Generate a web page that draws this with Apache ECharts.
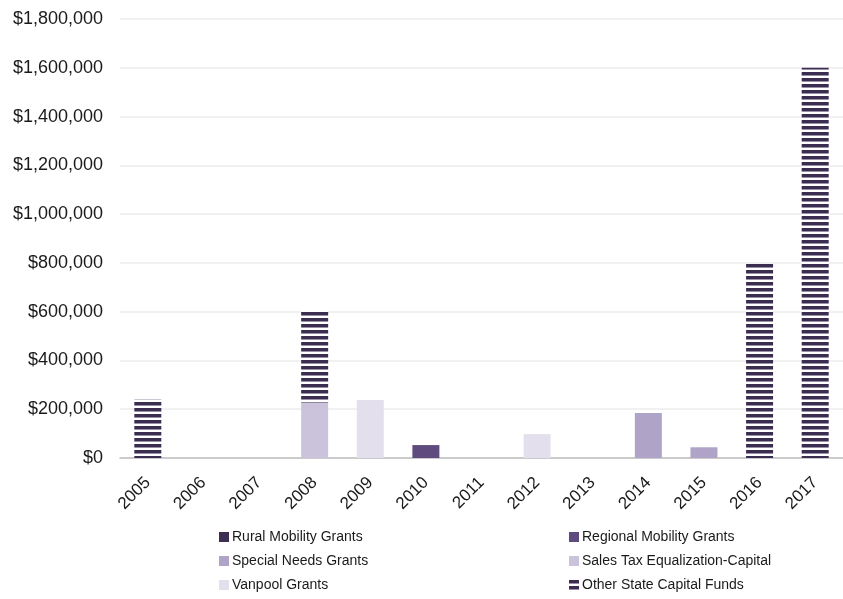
<!DOCTYPE html>
<html>
<head>
<meta charset="utf-8">
<script src="https://cdn.jsdelivr.net/npm/echarts@6/dist/echarts.min.js"></script>
<style>
html,body{margin:0;padding:0;background:#fff;}
#chart{width:843px;height:599px;}
</style>
</head>
<body>
<div id="chart"></div>
<script>
const years = ['2005','2006','2007','2008','2009','2010','2011','2012','2013','2014','2015','2016','2017'];
const ruralMobility   = [null,null,null,null,null,null,null,null,null,null,null,null,null];
const regionalMobility= [null,null,null,null,null,53000,null,null,null,null,null,null,null];
const specialNeeds    = [null,null,null,null,null,null,null,null,null,185000,44000,null,null];
const salesTaxEq      = [null,null,null,228000,null,null,null,null,null,null,null,null,null];
const vanpool         = [null,null,null,null,238000,null,null,98000,null,null,null,null,null];
const otherState      = [240000,null,null,379000,null,null,null,null,null,null,null,795000,1600000];

const seriesNames = ['Rural Mobility Grants','Regional Mobility Grants','Special Needs Grants','Sales Tax Equalization-Capital','Vanpool Grants','Other State Capital Funds'];

// striped pattern
const pc = document.createElement('canvas');
pc.width = 4; pc.height = 6;
const g = pc.getContext('2d');
g.fillStyle = '#ffffff'; g.fillRect(0,0,4,6);
g.fillStyle = '#3b2d50'; g.fillRect(0,0,4,3);
g.fillStyle = '#9a90a8'; g.fillRect(0,3,4,1);
const stripe = {image: pc, repeat: 'repeat'};

const colors = ['#3d2f52', '#5f4b7d', '#b0a3c8', '#cbc2db', '#e4dfec', stripe];
const datas = [ruralMobility, regionalMobility, specialNeeds, salesTaxEq, vanpool, otherState];

const font = 'Liberation Sans, Arial, sans-serif';
const legendCommon = {
  orient: 'vertical', top: 525, height: 80, width: 260,
  itemWidth: 10, itemHeight: 10, itemGap: 10, icon: 'rect',
  textStyle: {fontFamily: font, fontSize: 14, color: '#1a1a1a', padding: [0,0,0,-2]}
};
const chart = echarts.init(document.getElementById('chart'));
chart.setOption({
  animation: false,
  grid: {left: 120, right: -11, top: 19, bottom: 141, containLabel: false},
  legend: [
    Object.assign({data: [seriesNames[0], seriesNames[2], seriesNames[4]], left: 214}, legendCommon),
    Object.assign({data: [seriesNames[1], seriesNames[3], seriesNames[5]], left: 564}, legendCommon)
  ],
  xAxis: {
    type: 'category', data: years,
    axisLine: {lineStyle: {color: '#bfbfbf', width: 1.5}},
    axisTick: {show: false},
    axisLabel: {rotate: 45, fontFamily: font, fontSize: 17, color: '#1a1a1a', margin: 22}
  },
  yAxis: {
    type: 'value', min: 0, max: 1800000, interval: 200000,
    axisLine: {show: false}, axisTick: {show: false},
    splitLine: {lineStyle: {color: '#ececec', width: 1.5}},
    axisLabel: {fontFamily: font, fontSize: 18, color: '#1a1a1a', margin: 17,
      formatter: v => '$' + v.toLocaleString('en-US')}
  },
  series: seriesNames.map((n, i) => ({
    name: n, type: 'bar', stack: 'total', data: datas[i], barWidth: 27,
    itemStyle: {color: colors[i]}
  }))
});
</script>
</body>
</html>
